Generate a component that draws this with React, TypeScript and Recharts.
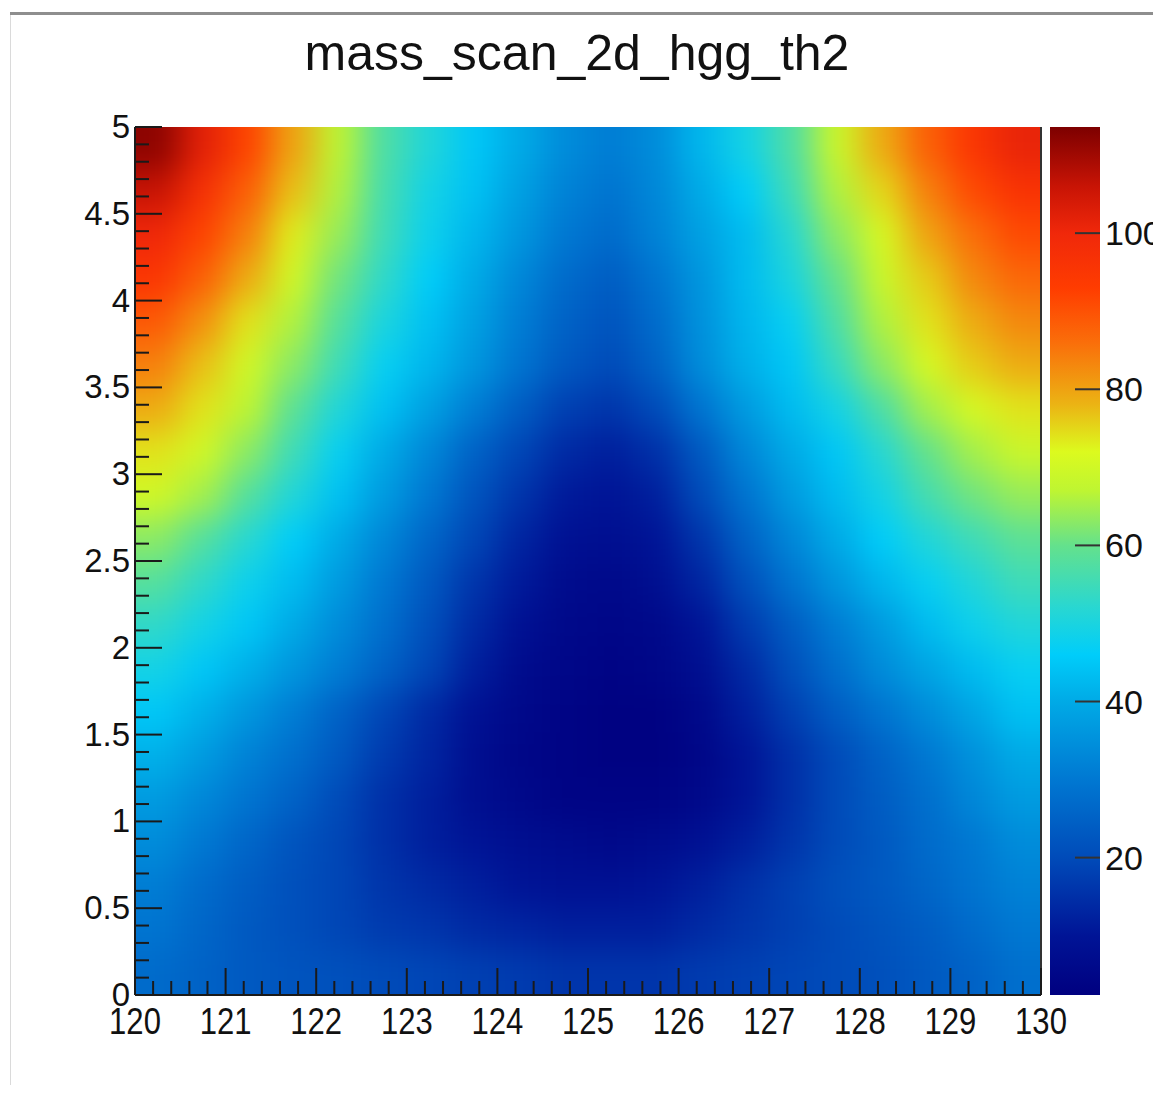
import React from 'react';
import { ScatterChart, Scatter, XAxis, YAxis, ReferenceArea, ReferenceLine } from 'recharts';

const FONT = "'Liberation Sans', Arial, Helvetica, sans-serif";

const chartTitle = 'mass_scan_2d_hgg_th2';

// bin centres
const xCenters = [120.25, 120.75, 121.25, 121.75, 122.25, 122.75, 123.25, 123.75, 124.25, 124.75,
  125.25, 125.75, 126.25, 126.75, 127.25, 127.75, 128.25, 128.75, 129.25, 129.75];
const yCenters = [4.875, 4.625, 4.375, 4.125, 3.875, 3.625, 3.375, 3.125, 2.875, 2.625,
  2.375, 2.125, 1.875, 1.625, 1.375, 1.125, 0.875, 0.625, 0.375, 0.125];
const xHalf = 0.25;
const yHalf = 0.125;

// z values, one row per y bin (top to bottom)
const z_4875 = [112, 102, 92, 80, 67, 57, 51, 45, 40, 34, 31, 34, 42, 49, 57, 69, 79, 88, 95, 101];
const z_4625 = [106, 97, 88, 77, 66, 56, 49, 44, 38, 32, 29, 33, 40, 46, 55, 66, 75, 84, 91, 96];
const z_4375 = [100, 92, 84, 73, 64, 55, 48, 42, 36, 30, 27, 32, 38, 43, 52, 63, 71, 80, 86, 91];
const z_4125 = [95, 88, 79, 70, 61, 53, 46, 40, 33, 27, 24, 29, 36, 43, 50, 60, 69, 76, 83, 87];
const z_3875 = [89, 82, 74, 66, 58, 50, 44, 38, 31, 25, 22, 27, 35, 42, 47, 57, 66, 74, 79, 83];
const z_3625 = [84, 77, 70, 63, 55, 47, 42, 36, 29, 23, 20, 25, 34, 41, 45, 54, 63, 71, 76, 79];
const z_3375 = [79, 74, 67, 59, 51, 44, 38, 31, 24, 18, 16, 20, 29, 37, 43, 49, 57, 65, 71, 74];
const z_3125 = [74, 70, 63, 55, 47, 40, 33, 25, 19, 14, 12, 15, 23, 33, 40, 45, 52, 60, 65, 69];
const z_2875 = [70, 65, 58, 51, 44, 37, 30, 22, 16, 11, 10, 12, 20, 29, 37, 43, 49, 56, 61, 64];
const z_2625 = [63, 58, 52, 46, 40, 33, 26, 19, 13, 9, 8, 10, 16, 25, 33, 40, 46, 51, 55, 59];
const z_2375 = [58, 53, 48, 43, 37, 30, 23, 16, 11, 7, 6, 8, 13, 21, 29, 36, 42, 47, 51, 55];
const z_2125 = [53, 49, 45, 40, 34, 28, 21, 14, 9, 6, 5, 6, 10, 17, 24, 31, 37, 43, 48, 51];
const z_1875 = [49, 45, 41, 36, 31, 25, 19, 12, 7, 5, 4, 5, 8, 14, 21, 28, 34, 39, 43, 47];
const z_1625 = [45, 41, 36, 31, 25, 19, 14, 9, 6, 4, 3, 3, 6, 12, 18, 24, 29, 34, 39, 44];
const z_1375 = [41, 37, 32, 28, 23, 17, 13, 8, 5, 4, 3, 3, 5, 10, 15, 20, 25, 30, 35, 40];
const z_1125 = [37, 33, 29, 25, 20, 15, 12, 8, 6, 4, 4, 4, 6, 10, 15, 20, 24, 28, 33, 37];
const z_0875 = [34, 30, 26, 22, 19, 15, 12, 10, 8, 7, 6, 7, 9, 12, 16, 20, 23, 27, 30, 34];
const z_0625 = [31, 27, 24, 21, 19, 16, 14, 12, 10, 9, 9, 10, 12, 15, 18, 21, 23, 26, 29, 32];
const z_0375 = [29, 26, 23, 21, 19, 17, 16, 14, 13, 12, 12, 12, 14, 16, 18, 20, 22, 24, 27, 30];
const z_0125 = [27, 25, 23, 22, 21, 20, 19, 18, 17, 16, 16, 16, 17, 18, 19, 20, 21, 23, 25, 28];

const zRows = [z_4875, z_4625, z_4375, z_4125, z_3875, z_3625, z_3375, z_3125, z_2875, z_2625,
  z_2375, z_2125, z_1875, z_1625, z_1375, z_1125, z_0875, z_0625, z_0375, z_0125];

const xDomain = [120, 130];
const yDomain = [0, 5];
const zMin = 2.4;
const zMax = 113.6;
const zTicks = [20, 40, 60, 80, 100];

// axis ticks: majors labelled, minors unlabelled
const xTicks = Array.from({ length: 51 }, (_, i) => 120 + i * 0.2);
const yTicks = Array.from({ length: 51 }, (_, i) => i / 10);

// palette (value -> rgb)
const palette: [number, number[]][] = [
  [2.4, [0, 0, 128]],
  [10, [0, 20, 150]],
  [20, [0, 75, 185]],
  [30, [0, 120, 210]],
  [40, [0, 170, 230]],
  [46, [0, 205, 250]],
  [52, [40, 215, 210]],
  [60, [100, 225, 140]],
  [67, [190, 245, 50]],
  [72, [220, 250, 30]],
  [78, [235, 180, 20]],
  [86, [250, 110, 10]],
  [93, [255, 60, 0]],
  [100, [240, 40, 10]],
  [106, [200, 20, 5]],
  [113.6, [125, 0, 0]],
];

function zColor(v: number): string {
  const t = Math.max(zMin, Math.min(zMax, v));
  for (let i = 1; i < palette.length; i++) {
    const [v0, c0] = palette[i - 1];
    const [v1, c1] = palette[i];
    if (t <= v1) {
      const f = (t - v0) / (v1 - v0);
      const c = c0.map((a, k) => Math.round(a + (c1[k] - a) * f));
      return `rgb(${c[0]},${c[1]},${c[2]})`;
    }
  }
  const l = palette[palette.length - 1][1];
  return `rgb(${l[0]},${l[1]},${l[2]})`;
}

const cells = zRows.flatMap((row, r) =>
  row.map((z, c) => ({ x: xCenters[c], y: yCenters[r], z, r, c }))
);

const EXT = 50;

const XTick = (props: any) => {
  const { x, y, payload } = props;
  const v = payload.value as number;
  const major = Math.abs(v - Math.round(v)) < 1e-6;
  return (
    <g>
      <line x1={x} x2={x} y1={y} y2={y - (major ? 27 : 14)} stroke="#1a1a1a" strokeWidth={2} />
      {major && (
        <text
          transform={`translate(${x},${y + 39}) scale(0.84,1)`}
          textAnchor="middle"
          fontSize={37}
          fontFamily={FONT}
          fill="#111"
        >
          {Math.round(v)}
        </text>
      )}
    </g>
  );
};

const YTick = (props: any) => {
  const { x, y, payload } = props;
  const v = payload.value as number;
  const h = Math.round(v * 2);
  const major = Math.abs(v * 2 - h) < 1e-6;
  return (
    <g>
      <line x1={x} x2={x + (major ? 27 : 14)} y1={y} y2={y} stroke="#1a1a1a" strokeWidth={2} />
      {major && (
        <text x={x - 5} y={y + 11} textAnchor="end" fontSize={33} fontFamily={FONT} fill="#111">
          {String(h / 2)}
        </text>
      )}
    </g>
  );
};

const ZTick = (props: any) => {
  const { x, y, payload } = props;
  return (
    <g>
      <line x1={x - 25} x2={x} y1={y} y2={y} stroke="#333" strokeWidth={2} />
      <text x={x + 5} y={y + 12} textAnchor="start" fontSize={34} fontFamily={FONT} fill="#111">
        {payload.value}
      </text>
    </g>
  );
};

export default function App() {
  return (
    <div
      style={{
        position: 'fixed',
        left: 0,
        top: 0,
        width: 1153,
        height: 1100,
        overflow: 'hidden',
        background: '#ffffff',
      }}
    >
      {/* page decorations */}
      <div style={{ position: 'absolute', left: 10, top: 12, width: 1143, height: 3, background: '#8e8e8e' }} />
      <div style={{ position: 'absolute', left: 10, top: 15, width: 1, height: 1070, background: '#dadada' }} />

      {/* heat map layer (smoothed) */}
      <div style={{ position: 'absolute', left: 135, top: 127, width: 906, height: 868, overflow: 'hidden' }}>
        <div style={{ position: 'absolute', left: -135, top: -127, filter: 'blur(16px)' }}>
          <ScatterChart width={1153} height={1084} margin={{ top: 127, right: 112, bottom: 89, left: 135 }}>
            <XAxis type="number" dataKey="x" domain={xDomain} hide allowDataOverflow />
            <YAxis type="number" dataKey="y" domain={yDomain} hide allowDataOverflow />
            {cells.map((cell) => (
              <ReferenceArea
                key={`c-${cell.r}-${cell.c}`}
                x1={cell.x - xHalf}
                x2={cell.x + xHalf}
                y1={cell.y - yHalf}
                y2={cell.y + yHalf}
                ifOverflow="visible"
                shape={(p: any) => {
                  let { x, y, width, height } = p;
                  if (cell.c === 0) { x -= EXT; width += EXT; }
                  if (cell.c === xCenters.length - 1) { width += EXT; }
                  if (cell.r === 0) { y -= EXT; height += EXT; }
                  if (cell.r === yCenters.length - 1) { height += EXT; }
                  const col = zColor(cell.z);
                  return <rect x={x} y={y} width={width} height={height} fill={col} stroke={col} strokeWidth={1} />;
                }}
              />
            ))}
            <Scatter data={cells} dataKey="y" isAnimationActive={false} shape={() => <g />} />
          </ScatterChart>
        </div>
      </div>

      {/* axes layer */}
      <div style={{ position: 'absolute', left: 0, top: 0 }}>
        <ScatterChart width={1153} height={1084} margin={{ top: 127, right: 112, bottom: 39, left: 75 }}>
          <XAxis
            type="number"
            dataKey="x"
            domain={xDomain}
            ticks={xTicks}
            interval={0}
            height={50}
            allowDataOverflow
            axisLine={{ stroke: '#1a1a1a', strokeWidth: 2 }}
            tickLine={false}
            tickSize={0}
            tickMargin={0}
            tick={XTick}
          />
          <YAxis
            type="number"
            dataKey="y"
            domain={yDomain}
            ticks={yTicks}
            interval={0}
            width={60}
            allowDataOverflow
            axisLine={{ stroke: '#1a1a1a', strokeWidth: 2 }}
            tickLine={false}
            tickSize={0}
            tickMargin={0}
            tick={YTick}
          />
          <ReferenceLine x={130} stroke="#333" strokeWidth={2} ifOverflow="visible" />
          <Scatter data={cells} dataKey="y" isAnimationActive={false} shape={() => <g />} />
        </ScatterChart>
      </div>

      {/* colour bar */}
      <div style={{ position: 'absolute', left: 1050, top: 0 }}>
        <ScatterChart width={103} height={1084} margin={{ top: 127, right: 0, bottom: 89, left: 0 }}>
          <XAxis type="number" dataKey="x" domain={[0, 1]} hide />
          <YAxis
            orientation="right"
            type="number"
            dataKey="y"
            domain={[zMin, zMax]}
            ticks={zTicks}
            interval={0}
            width={53}
            allowDataOverflow
            axisLine={false}
            tickLine={false}
            tickSize={0}
            tickMargin={0}
            tick={ZTick}
          />
          <ReferenceArea
            x1={0}
            x2={1}
            y1={zMin}
            y2={zMax}
            ifOverflow="visible"
            shape={(p: any) => (
              <g>
                <defs>
                  <linearGradient id="zbar" x1="0" y1="1" x2="0" y2="0">
                    {palette.map(([v, c]) => (
                      <stop
                        key={v}
                        offset={(v - zMin) / (zMax - zMin)}
                        stopColor={`rgb(${c[0]},${c[1]},${c[2]})`}
                      />
                    ))}
                  </linearGradient>
                </defs>
                <rect x={p.x} y={p.y} width={p.width} height={p.height} fill="url(#zbar)" />
              </g>
            )}
          />
          <Scatter
            data={zTicks.map((v) => ({ x: 0.5, y: v }))}
            dataKey="y"
            isAnimationActive={false}
            shape={() => <g />}
          />
        </ScatterChart>
      </div>

      {/* title */}
      <svg width={1153} height={90} style={{ position: 'absolute', left: 0, top: 0 }}>
        <text x={577} y={70} textAnchor="middle" fontSize={50} fontFamily={FONT} fill="#111">
          {chartTitle}
        </text>
      </svg>
    </div>
  );
}
